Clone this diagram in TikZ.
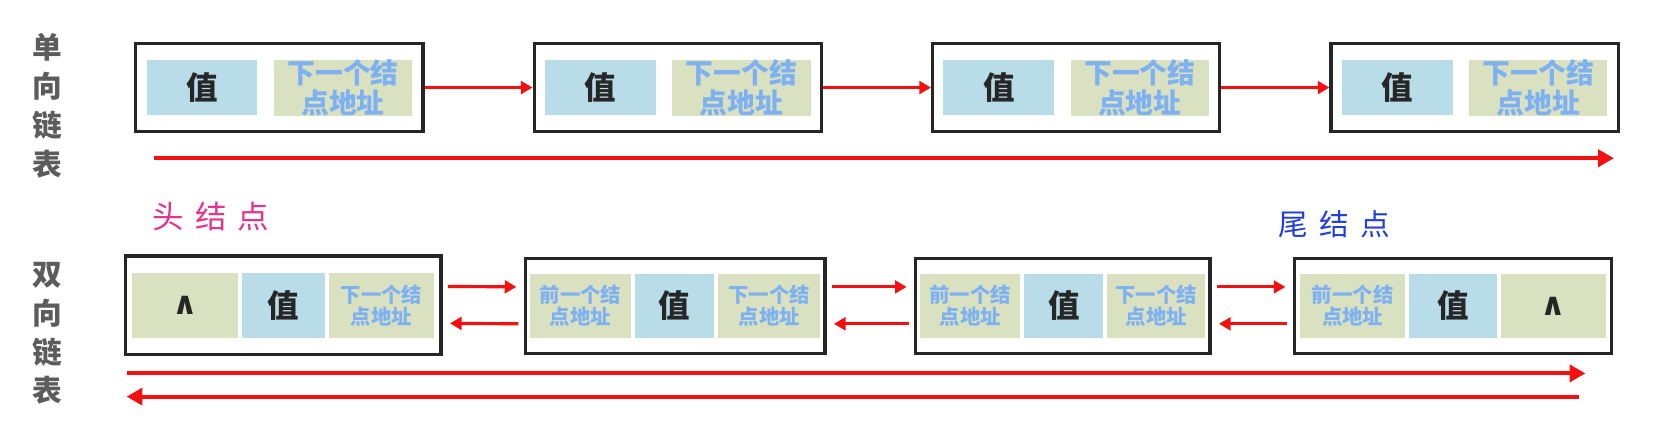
\documentclass[tikz,border=0pt]{standalone}
\usepackage{fontspec}
\newfontfamily\cjk{Noto Sans CJK SC}
\newfontfamily\symf{DejaVu Sans}
\usetikzlibrary{positioning,fit,arrows.meta}
\definecolor{valblue}{HTML}{B9DDE8}
\definecolor{addrgreen}{HTML}{D9E1C1}
\definecolor{addrtext}{HTML}{7DB1F2}
\definecolor{linkred}{HTML}{F41010}
\definecolor{labelgray}{HTML}{5C5C5C}
\definecolor{headpink}{HTML}{E3338C}
\definecolor{tailblue}{HTML}{1F3FD6}
\begin{document}
\begin{tikzpicture}[x=0.02cm, y=-0.02cm,
    val cell/.style={fill=valblue, inner sep=0pt, minimum height=#1, text=black!85,
      font=\cjk\bfseries\fontsize{17}{20}\selectfont},
    addr cell/.style={fill=addrgreen, inner sep=0pt, minimum height=#1, text=addrtext, align=center},
    nil cell/.style={fill=addrgreen, inner sep=0pt, minimum height=1.22cm, text=black!85,
      font=\symf\bfseries\fontsize{17}{20}\selectfont},
    big addr/.style={font=\cjk\bfseries\fontsize{15}{16}\selectfont},
    small addr/.style={font=\cjk\bfseries\fontsize{11}{12}\selectfont},
    box/.style={draw=black!85, line width=1.7pt},
    link/.style={draw=linkred, line width=1.7pt, -{Triangle[length=0.22cm,width=0.24cm]}},
    long link/.style={draw=linkred, line width=2.2pt, -{Triangle[length=0.3cm,width=0.32cm]}},
    side label/.style={text=labelgray, align=center, font=\cjk\bfseries\fontsize{16}{21}\selectfont}]
  \useasboundingbox (0,0) rectangle (1568,409.5);

  % single linked list
  \node[side label] (single) at (45,100) {单\\向\\链\\表};

  \node[val cell=1.04cm, minimum width=2.1cm] (v1) at (191.5,83) {值};
  \node[addr cell=1.04cm, minimum width=2.62cm, big addr] (n1) [right=0.3cm of v1] {下一个结\\点地址};
  \node[box, fit=(v1) (n1), inner xsep=0.2cm, inner ysep=0.29cm] (s1) {};

  \node[val cell=1.04cm, minimum width=2.1cm] (v2) at (569.2,83) {值};
  \node[addr cell=1.04cm, minimum width=2.62cm, big addr] (n2) [right=0.3cm of v2] {下一个结\\点地址};
  \node[box, fit=(v2) (n2), inner xsep=0.2cm, inner ysep=0.29cm] (s2) {};

  \node[val cell=1.04cm, minimum width=2.1cm] (v3) at (946.9,83) {值};
  \node[addr cell=1.04cm, minimum width=2.62cm, big addr] (n3) [right=0.3cm of v3] {下一个结\\点地址};
  \node[box, fit=(v3) (n3), inner xsep=0.2cm, inner ysep=0.29cm] (s3) {};

  \node[val cell=1.04cm, minimum width=2.1cm] (v4) at (1324.6,83) {值};
  \node[addr cell=1.04cm, minimum width=2.62cm, big addr] (n4) [right=0.3cm of v4] {下一个结\\点地址};
  \node[box, fit=(v4) (n4), inner xsep=0.2cm, inner ysep=0.29cm] (s4) {};

  \path[every edge/.style={link}]
    (s1) edge (s2)
    (s2) edge (s3)
    (s3) edge (s4);

  \coordinate (sa) at (146,150);
  \coordinate (sb) at (1530,150);
  \draw[long link] (sa) -- (sb);

  % double linked list
  \node[side label] (double) at (45,316) {双\\向\\链\\表};
  \node[text=headpink, font=\cjk\fontsize{17}{20}\selectfont] (head) at (200,205) {头\hspace{6pt}结\hspace{6pt}点};
  \node[text=tailblue, font=\cjk\fontsize{16}{20}\selectfont] (tail) at (1265,213) {尾\hspace{6pt}结\hspace{6pt}点};

  \node[nil cell, minimum width=2cm, anchor=west] (p1) at (125,289.5) {∧};
  \node[val cell=1.22cm, minimum width=1.58cm] (w1) [right=0.06cm of p1] {值};
  \node[addr cell=1.22cm, minimum width=2cm, small addr] (q1) [right=0.06cm of w1] {下一个结\\点地址};
  \node[box, fit=(p1) (q1), inner xsep=0.12cm, inner ysep=0.32cm] (d1) {};

  \node[addr cell=1.22cm, minimum width=1.92cm, small addr, anchor=west] (p2) at (502,290) {前一个结\\点地址};
  \node[val cell=1.22cm, minimum width=1.5cm] (w2) [right=0.06cm of p2] {值};
  \node[addr cell=1.22cm, minimum width=1.94cm, small addr] (q2) [right=0.06cm of w2] {下一个结\\点地址};
  \node[box, fit=(p2) (q2), inner xsep=0.08cm, inner ysep=0.28cm] (d2) {};

  \node[addr cell=1.22cm, minimum width=1.9cm, small addr, anchor=west] (p3) at (872,290) {前一个结\\点地址};
  \node[val cell=1.22cm, minimum width=1.5cm] (w3) [right=0.06cm of p3] {值};
  \node[addr cell=1.22cm, minimum width=1.86cm, small addr] (q3) [right=0.06cm of w3] {下一个结\\点地址};
  \node[box, fit=(p3) (q3), inner xsep=0.08cm, inner ysep=0.28cm] (d3) {};

  \node[addr cell=1.22cm, minimum width=2cm, small addr, anchor=west] (p4) at (1232,290) {前一个结\\点地址};
  \node[val cell=1.22cm, minimum width=1.66cm] (w4) [right=0.06cm of p4] {值};
  \node[nil cell, minimum width=2cm] (q4) [right=0.06cm of w4] {∧};
  \node[box, fit=(p4) (q4), inner xsep=0.1cm, inner ysep=0.28cm] (d4) {};

  \path[every edge/.style={link, shorten <=0.1cm, shorten >=0.14cm}]
    ([yshift=0.36cm]d1.east) edge ([yshift=0.36cm]d2.west)
    ([yshift=0.36cm]d2.east) edge ([yshift=0.36cm]d3.west)
    ([yshift=0.36cm]d3.east) edge ([yshift=0.36cm]d4.west)
    ([yshift=-0.34cm]d2.west) edge ([yshift=-0.34cm]d1.east)
    ([yshift=-0.34cm]d3.west) edge ([yshift=-0.34cm]d2.east)
    ([yshift=-0.34cm]d4.west) edge ([yshift=-0.34cm]d3.east);

  \coordinate (fa) at (120,354);
  \coordinate (fb) at (1503,354);
  \coordinate (ba) at (1497,376);
  \coordinate (bb) at (120,376);
  \draw[long link] (fa) -- (fb);
  \draw[long link] (ba) -- (bb);
\end{tikzpicture}
\end{document}
